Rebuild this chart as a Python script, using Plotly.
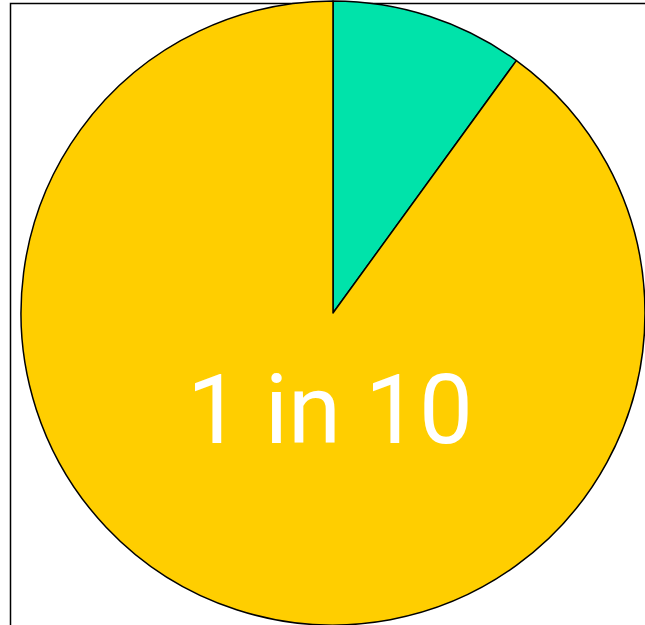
import plotly.graph_objects as go

labels = ["1 in 10", "other 9 in 10"]
values = [1, 9]
colors = ["#00E3AA", "#FFCE00"]
center_text = "1 in 10"

W, H = 645, 625
cx, cy, r = 333, 313, 312

fig = go.Figure(go.Pie(
    labels=labels,
    values=values,
    sort=False,
    direction="clockwise",
    rotation=0,
    marker=dict(colors=colors, line=dict(color="black", width=1.5)),
    textinfo="none",
    hoverinfo="label+percent",
    showlegend=False,
    domain=dict(x=[(cx - r) / W, (cx + r) / W],
                y=[1 - (cy + r) / H, 1 - (cy - r) / H]),
))

fig.add_shape(type="rect", xref="paper", yref="paper",
              x0=10.5 / W, x1=1.2, y0=-0.2, y1=1 - 3.5 / H,
              line=dict(color="black", width=1.5), layer="below")

fig.add_annotation(text=center_text, xref="paper", yref="paper",
                   x=329.5 / W, y=1 - 409.7 / H, xanchor="center", yanchor="middle",
                   showarrow=False,
                   font=dict(family="Roboto", size=96, color="white"))

fig.update_layout(width=W, height=H, margin=dict(l=0, r=0, t=0, b=0),
                  paper_bgcolor="white", plot_bgcolor="white")

fig.write_html("out.html")
